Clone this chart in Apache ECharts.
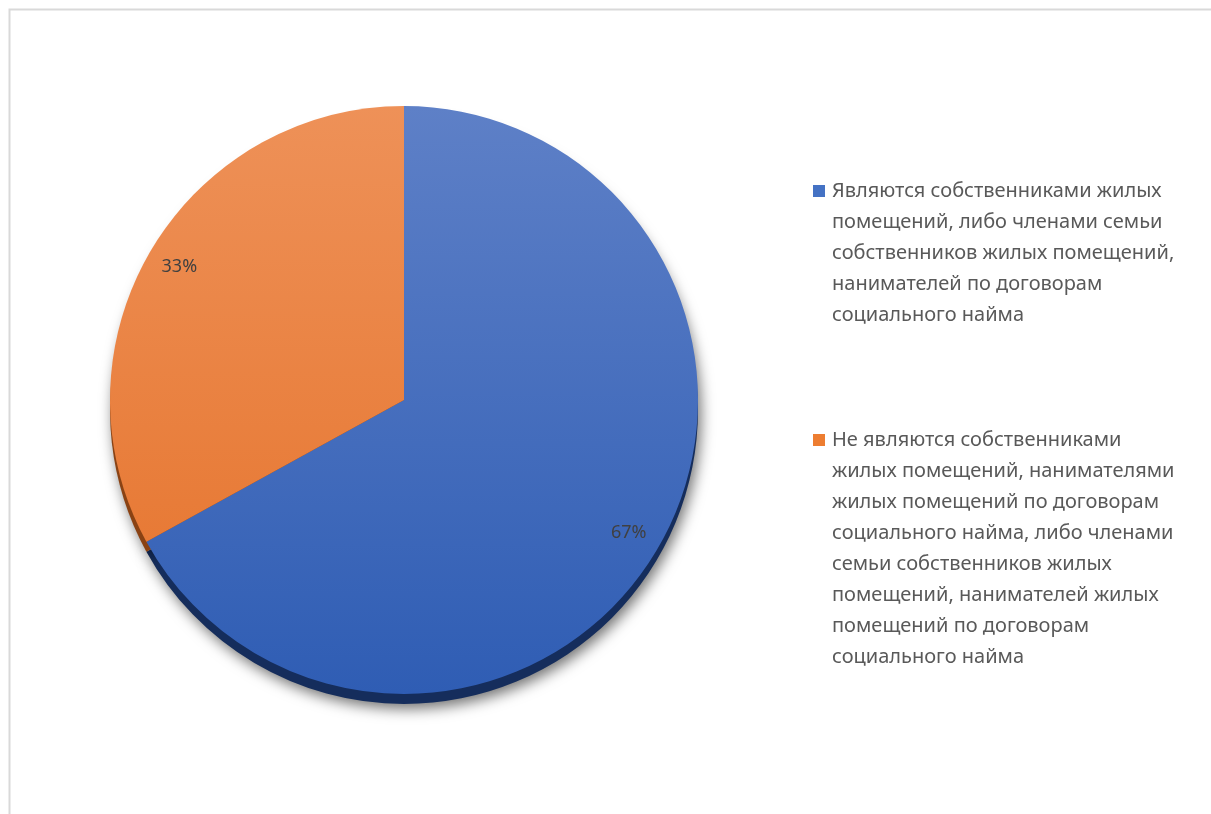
<!DOCTYPE html>
<html>
<head>
<meta charset="utf-8">
<script src="https://cdn.jsdelivr.net/npm/echarts@6/dist/echarts.min.js"></script>
<style>
html,body{margin:0;padding:0;background:#fff;}
#chart{width:1211px;height:814px;}
</style>
</head>
<body>
<div id="chart"></div>
<script>
// Data
var categories = [
  'Являются собственниками жилых\nпомещений, либо членами семьи\nсобственников жилых помещений,\nнанимателей по договорам\nсоциального найма',
  'Не являются собственниками\nжилых помещений, нанимателями\nжилых помещений по договорам\nсоциального найма, либо членами\nсемьи собственников жилых\nпомещений, нанимателей жилых\nпомещений по договорам\nсоциального найма'
];
var values = [67, 33];
var legendColors = ['#4472C4', '#ED7D31'];
var colorsTop = ['#5E80C7', '#EE9158'];
var colorsBottom = ['#2F5DB4', '#E5722A'];
var rimColors = ['#152D5C', '#8A4213'];

var CX = 404, CY = 400, R = 294;

function grad(i) {
  return {
    type: 'linear', global: true,
    x: 0, y: CY - R, x2: 0, y2: CY + R,
    colorStops: [{offset: 0, color: colorsTop[i]}, {offset: 1, color: colorsBottom[i]}]
  };
}

var mainData = categories.map(function (c, i) {
  return {name: c, value: values[i], itemStyle: {color: grad(i)}};
});
var rimData = categories.map(function (c, i) {
  return {name: c, value: values[i], itemStyle: {color: rimColors[i]}};
});
var labelData = categories.map(function (c, i) {
  return {name: c, value: values[i]};
});

var chart = echarts.init(document.getElementById('chart'), null, {renderer: 'canvas'});

var textFont = '"Noto Sans", "Open Sans", sans-serif';
var LH = 31, FS = 20;

function legendFor(i, firstLineCenter) {
  var sqKey = 'sq' + i;
  var rich = {
    t: {fontFamily: textFont, fontSize: FS, color: '#595959', lineHeight: LH},
    sp: {width: 19, lineHeight: LH, fontSize: FS}
  };
  rich[sqKey] = {width: 12, height: 12, backgroundColor: legendColors[i], lineHeight: LH, fontSize: 1};
  rich.g = {width: 7, lineHeight: LH, fontSize: FS};
  var nLines = categories[i].split('\n').length;
  return {
    show: true,
    data: [categories[i]],
    orient: 'vertical',
    left: 808,
    top: firstLineCenter - LH / 2,
    padding: 0,
    icon: 'none',
    itemWidth: 0,
    itemHeight: 12,
    selectedMode: false,
    formatter: function (name) {
      return name.split('\n').map(function (line, k) {
        return (k === 0 ? '{' + sqKey + '| }{g| }' : '{sp| }') + '{t|' + line + '}';
      }).join('\n');
    },
    textStyle: {
      fontFamily: textFont,
      fontSize: FS,
      color: '#595959',
      lineHeight: LH,
      rich: rich
    }
  };
}

var option = {
  backgroundColor: '#ffffff',
  animation: false,
  graphic: [{
    type: 'rect',
    shape: {x: 9.5, y: 9.5, width: 1400, height: 1000},
    style: {fill: 'none', stroke: '#D9D9D9', lineWidth: 2},
    silent: true,
    z: 0
  }],
  legend: [
    legendFor(0, 191),
    legendFor(1, 440)
  ],
  series: [
    {
      name: 'main',
      type: 'pie',
      center: [CX, CY],
      radius: [0, R],
      startAngle: 90,
      clockwise: true,
      label: {show: false},
      labelLine: {show: false},
      silent: true,
      z: 3,
      itemStyle: {borderWidth: 0},
      data: mainData
    },
    {
      name: 'rim',
      type: 'pie',
      center: [CX, CY + 10],
      radius: [0, R],
      startAngle: 90,
      clockwise: true,
      label: {show: false},
      labelLine: {show: false},
      silent: true,
      z: 2,
      itemStyle: {
        borderWidth: 0,
        shadowBlur: 14,
        shadowColor: 'rgba(0,0,0,0.55)',
        shadowOffsetX: 3,
        shadowOffsetY: 5
      },
      data: rimData
    },
    {
      name: 'labels',
      type: 'pie',
      center: [CX, CY],
      radius: [222, R],
      startAngle: 90,
      clockwise: true,
      silent: true,
      z: 4,
      itemStyle: {color: 'rgba(0,0,0,0)', borderWidth: 0},
      label: {
        show: true,
        position: 'inside',
        formatter: function (p) { return p.value + '%'; },
        fontFamily: textFont,
        fontSize: 18,
        color: '#404040'
      },
      labelLine: {show: false},
      data: labelData
    }
  ]
};
chart.setOption(option);
</script>
</body>
</html>
